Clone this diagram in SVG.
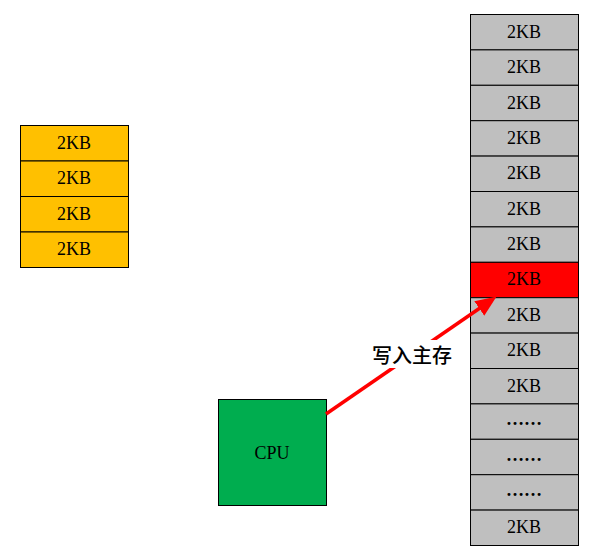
<svg xmlns="http://www.w3.org/2000/svg" width="606" height="560" viewBox="0 0 606 560">
<defs>
<style>
.g{fill:#bfbfbf;stroke:#000;stroke-width:1}
.y{fill:#ffc000;stroke:#000;stroke-width:1}
.r{fill:#ff0000;stroke:#000;stroke-width:1}
.c{fill:#00ad4f;stroke:#000;stroke-width:1}
.t{font-family:"Liberation Serif","Noto Sans CJK SC",serif;font-size:18px;fill:#000;text-anchor:middle;dominant-baseline:central}
.d{font-family:"Liberation Serif",serif;font-size:18px;font-weight:bold;fill:#000;text-anchor:middle;dominant-baseline:central}
.l{font-family:"Noto Sans CJK SC",sans-serif;font-size:20px;font-weight:500;fill:#000;text-anchor:middle;dominant-baseline:central}
</style>
<marker id="ah" viewBox="0 0 12 10" refX="0.5" refY="5" markerWidth="6" markerHeight="5" orient="auto" markerUnits="strokeWidth">
<path d="M0,0 L12,5 L0,10 z" fill="#ff0000"/>
</marker>
</defs>
<g id="cache">
<rect class="y" x="20.5" y="125.5" width="108" height="35.5"/><text class="t" x="74" y="143">2KB</text>
<rect class="y" x="20.5" y="161" width="108" height="35.5"/><text class="t" x="74" y="178">2KB</text>
<rect class="y" x="20.5" y="196.5" width="108" height="35.5"/><text class="t" x="74" y="214">2KB</text>
<rect class="y" x="20.5" y="232" width="108" height="35.5"/><text class="t" x="74" y="249">2KB</text>
</g>
<g id="memory">
<rect class="g" x="470.5" y="14.5" width="108" height="35.4"/><text class="t" x="524" y="32">2KB</text>
<rect class="g" x="470.5" y="49.9" width="108" height="35.4"/><text class="t" x="524" y="67">2KB</text>
<rect class="g" x="470.5" y="85.3" width="108" height="35.4"/><text class="t" x="524" y="103">2KB</text>
<rect class="g" x="470.5" y="120.7" width="108" height="35.4"/><text class="t" x="524" y="138">2KB</text>
<rect class="g" x="470.5" y="156.1" width="108" height="35.4"/><text class="t" x="524" y="173">2KB</text>
<rect class="g" x="470.5" y="191.5" width="108" height="35.4"/><text class="t" x="524" y="209">2KB</text>
<rect class="g" x="470.5" y="226.9" width="108" height="35.4"/><text class="t" x="524" y="244">2KB</text>
<rect class="r" x="470.5" y="262.3" width="108" height="35.4"/><text class="t" x="524" y="279">2KB</text>
<rect class="g" x="470.5" y="297.7" width="108" height="35.4"/><text class="t" x="524" y="315">2KB</text>
<rect class="g" x="470.5" y="333.1" width="108" height="35.4"/><text class="t" x="524" y="350">2KB</text>
<rect class="g" x="470.5" y="368.5" width="108" height="35.4"/><text class="t" x="524" y="386">2KB</text>
<rect class="g" x="470.5" y="403.9" width="108" height="35.4"/><text class="d" x="524" y="419">……</text>
<rect class="g" x="470.5" y="439.3" width="108" height="35.4"/><text class="d" x="524" y="455">……</text>
<rect class="g" x="470.5" y="474.7" width="108" height="35.4"/><text class="d" x="524" y="490">……</text>
<rect class="g" x="470.5" y="510.1" width="108" height="35.4"/><text class="t" x="524" y="527">2KB</text>
</g>
<g id="cpu">
<rect class="c" x="218.5" y="399.5" width="108" height="106"/><text class="t" x="272" y="453">CPU</text>
</g>
<g id="connectors">
<line x1="326" y1="414" x2="480" y2="308" stroke="#ff0000" stroke-width="3.5" marker-end="url(#ah)"/>
<rect x="368" y="340" width="88" height="28" fill="#fff"/>
<text class="l" x="412" y="354">写入主存</text>
</g>
</svg>
